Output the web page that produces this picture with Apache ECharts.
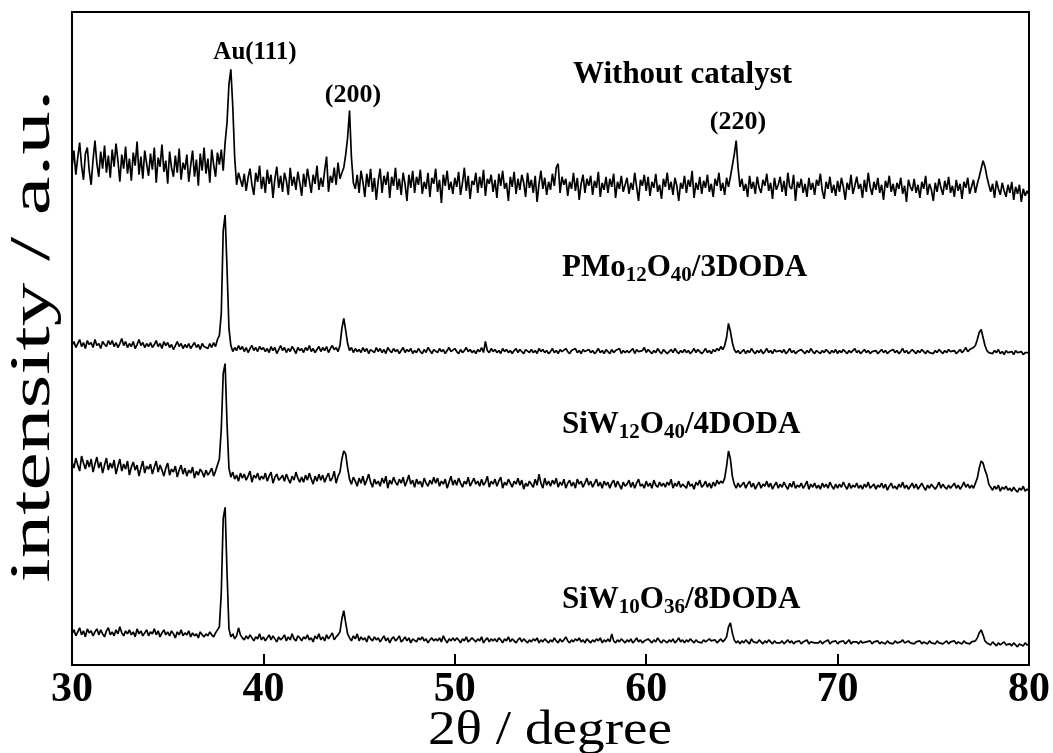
<!DOCTYPE html>
<html>
<head>
<meta charset="utf-8">
<script src="https://cdn.jsdelivr.net/npm/echarts@6/dist/echarts.min.js"></script>
<style>
  html, body { margin: 0; padding: 0; background: #fff; }
  #chart { width: 1053px; height: 753px; }
</style>
</head>
<body>
<div id="chart"></div>
<script>
// XRD scan: 2θ from 30° to 80° in 0.1° steps
const scanStart = 30;
const scanStep = 0.1;
const xTicks = [30, 40, 50, 60, 70, 80];

// Stacked intensities (a.u.), one list per sample, one value per scan step
const withoutCatalyst = [
  495,512,488,505,520,497,483,509,515,492,
  478,503,522,499,486,511,494,517,490,507,
  485,513,496,519,502,481,508,494,516,489,
  504,482,510,497,521,488,506,484,512,499,
  487,509,493,515,480,505,496,518,491,502,
  479,511,495,486,507,490,514,483,500,493,
  508,481,497,512,486,503,477,509,492,515,
  489,504,480,513,498,486,510,498,513,492,
  520,540,578,593,556,505,478,490,483,476,
  489,472,485,494,478,468,490,481,497,474,
  486,470,493,479,488,465,484,496,475,487,
  471,490,482,468,495,477,486,473,491,480,
  467,489,476,494,482,470,488,479,497,473,
  485,476,492,506,471,487,480,495,478,500,
  484,490,495,508,525,552,505,480,474,488,
  470,492,481,466,489,476,494,471,485,463,
  482,494,470,487,478,491,465,486,477,495,
  473,484,468,490,479,462,488,475,492,470,
  486,478,493,469,481,474,490,466,485,479,
  494,471,483,460,488,477,492,473,481,469,
  485,476,491,468,480,495,472,487,464,482,
  478,490,470,486,475,493,467,484,479,488,
  471,483,465,489,477,492,474,480,462,486,
  476,491,469,484,473,488,480,466,490,475,
  483,470,487,461,479,492,474,485,468,481,
  473,489,477,495,499,470,486,478,484,467,
  481,474,490,472,485,463,479,488,470,484,
  477,487,468,482,475,491,466,480,473,486,
  470,484,476,489,465,481,474,487,471,478,
  485,469,480,473,490,476,462,483,477,488,
  472,486,467,481,475,489,471,478,464,484,
  476,490,473,481,468,485,477,462,480,474,
  487,470,483,476,492,465,480,473,486,469,
  482,475,488,471,479,466,484,477,490,472,
  480,468,485,476,486,497,508,522,495,476,
  484,472,479,466,487,474,481,469,486,475,
  470,483,477,489,472,480,464,485,473,478,
  486,471,482,467,490,476,474,488,462,481,
  475,484,470,479,466,485,473,480,468,483,
  477,489,472,464,481,474,486,470,478,467,
  482,471,485,476,463,480,473,488,469,477,
  486,474,479,465,483,471,490,476,468,481,
  473,485,470,478,463,482,475,487,471,479,
  467,480,474,485,469,477,461,483,476,472,
  484,470,478,465,481,474,487,468,479,473,
  462,480,471,484,475,468,482,473,486,470,
  477,466,483,472,479,464,481,475,485,469,
  476,483,470,479,486,494,502,496,486,478,
  471,479,465,482,474,468,480,472,466,478,
  470,481,463,476,469,478,461,474,467,472,
  468
];

const pmo12 = [
  318,322,316,320,324,317,321,315,323,319,
  321,316,324,318,320,315,322,319,317,323,
  319,323,317,321,316,320,325,318,322,316,
  320,317,322,315,319,324,318,321,316,320,
  317,321,316,319,323,317,320,315,322,318,
  321,316,319,314,318,322,317,320,315,319,
  316,320,315,318,321,316,319,314,320,317,
  318,315,320,316,321,317,324,328,350,432,
  448,395,335,318,312,316,313,318,314,317,
  312,316,311,315,318,313,316,312,317,314,
  316,312,315,311,317,313,316,310,314,318,
  313,316,311,315,312,317,314,310,316,313,
  315,311,316,313,318,312,315,311,314,317,
  312,316,313,317,311,315,318,314,316,312,
  318,335,345,333,320,313,316,311,315,312,
  314,311,316,312,315,310,314,313,311,316,
  312,315,311,314,310,316,313,311,315,312,
  314,310,313,316,311,314,312,315,310,313,
  311,315,312,310,314,311,316,313,310,314,
  313,311,315,312,314,310,313,316,312,311,
  315,312,310,314,311,313,316,312,314,311,
  313,310,314,312,316,311,322,313,311,315,
  312,314,311,313,310,315,312,314,311,313,
  310,313,315,311,314,312,310,314,313,311,
  314,311,313,310,315,312,314,311,313,310,
  312,315,311,313,310,314,312,311,315,312,
  310,313,312,315,311,313,310,314,312,311,
  314,311,313,310,312,315,311,313,310,314,
  312,310,314,311,313,312,315,310,313,311,
  313,311,312,315,310,314,312,311,313,316,
  311,314,312,310,313,311,315,312,310,314,
  313,310,312,314,311,315,312,310,313,311,
  314,311,313,310,312,315,311,314,312,310,
  312,315,311,313,310,314,312,315,313,317,
  314,318,326,340,332,321,314,311,313,310,
  312,314,310,313,311,315,312,310,313,311,
  314,310,312,315,311,313,310,314,312,311,
  313,311,314,310,312,315,311,313,310,312,
  311,314,312,310,313,311,315,312,310,313,
  312,310,313,311,314,312,310,313,311,314,
  310,313,311,314,312,310,313,311,312,315,
  311,313,310,312,314,311,313,310,312,311,
  313,310,312,314,311,313,310,312,311,314,
  311,313,310,312,315,311,313,310,312,314,
  312,310,313,311,314,312,310,313,311,312,
  310,313,311,314,312,310,313,311,314,312,
  311,313,310,312,314,311,313,316,312,314,
  313,316,318,324,331,334,326,318,313,311,
  312,310,313,311,314,310,312,309,313,311,
  310,312,309,313,311,310,312,309,311,310,
  311
];

const siw12 = [
  202,196,206,199,193,208,201,195,204,197,
  205,192,200,207,196,202,191,199,206,194,
  201,196,204,190,198,205,193,200,195,203,
  189,197,202,194,199,188,196,203,191,198,
  195,200,190,197,203,192,199,194,188,196,
  201,189,195,192,198,187,194,199,190,196,
  188,194,191,197,186,193,189,195,192,187,
  194,189,192,196,188,193,199,205,235,290,
  300,240,196,187,192,185,189,183,191,186,
  190,184,188,193,182,189,186,191,184,188,
  185,191,183,188,192,181,187,190,184,186,
  189,183,190,185,181,188,184,192,186,182,
  187,182,189,184,191,185,180,188,183,190,
  184,189,182,187,191,183,186,193,181,188,
  192,205,213,210,196,185,180,187,183,178,
  186,181,188,179,184,190,182,177,185,180,
  183,178,186,181,188,176,184,180,187,182,
  179,185,181,187,178,183,189,180,184,177,
  185,180,183,177,186,181,178,184,180,187,
  181,186,178,183,180,185,176,182,188,179,
  184,179,186,181,177,183,180,187,178,182,
  186,180,183,178,185,179,182,188,177,183,
  180,185,178,183,187,176,182,179,185,181,
  177,183,180,186,179,184,175,181,178,183,
  182,177,185,179,190,181,176,186,179,183,
  178,184,180,186,177,182,179,185,176,181,
  184,178,182,176,185,180,183,177,181,186,
  179,183,177,181,185,178,182,176,183,179,
  182,176,181,184,177,183,179,175,182,178,
  180,184,177,182,176,181,185,178,180,176,
  183,178,181,176,184,179,177,182,178,181,
  177,182,179,185,176,181,178,183,177,180,
  181,176,183,178,180,175,182,179,184,177,
  179,183,177,181,176,182,178,184,180,183,
  181,186,198,213,205,188,180,176,181,177,
  178,182,176,180,183,177,181,175,179,182,
  176,180,178,183,177,181,175,179,182,176,
  180,177,182,178,175,181,177,183,176,179,
  177,181,176,179,183,175,180,177,181,176,
  179,175,181,177,180,176,182,178,175,180,
  176,180,177,182,178,175,181,176,179,177,
  181,176,179,175,180,177,182,176,178,180,
  175,179,177,181,176,180,174,178,181,176,
  178,175,180,177,182,176,179,175,178,181,
  176,180,175,178,181,177,174,179,176,180,
  179,175,178,182,176,180,177,175,179,176,
  177,181,176,179,175,178,182,177,180,176,
  179,176,181,186,196,203,201,194,189,180,
  177,174,178,175,179,173,177,175,178,174,
  176,173,177,174,172,176,174,178,173,175,
  174
];

const siw10 = [
  31,35,29,33,37,30,34,28,36,32,
  34,29,33,36,30,35,31,28,34,37,
  30,33,29,35,31,38,32,29,34,31,
  35,30,33,28,36,31,34,29,32,35,
  29,33,31,36,30,34,28,32,35,30,
  33,29,34,31,27,33,30,35,29,32,
  30,34,28,32,29,31,27,33,30,28,
  31,29,33,30,28,32,35,38,72,146,
  157,92,36,28,31,26,29,37,30,27,
  25,29,26,30,27,24,28,26,31,25,
  28,24,27,30,25,29,26,23,28,25,
  27,30,24,28,25,31,26,24,29,27,
  24,28,26,30,25,27,23,29,26,31,
  25,28,24,30,26,29,32,25,28,30,
  33,46,54,42,31,27,24,29,26,31,
  24,28,25,27,23,29,26,24,28,25,
  27,23,26,29,24,27,22,26,28,24,
  26,29,23,25,28,24,27,22,26,25,
  23,27,25,28,24,26,22,25,27,24,
  26,24,27,23,29,25,22,26,24,27,
  24,27,25,22,26,24,28,23,25,27,
  25,23,26,24,28,22,25,27,23,26,
  24,26,23,27,25,22,26,24,28,23,
  26,24,22,25,27,23,26,24,22,25,
  23,26,24,27,22,25,23,26,24,22,
  25,23,27,24,22,26,23,25,28,24,
  22,25,23,26,24,27,23,25,22,26,
  24,22,25,23,26,24,27,22,25,23,
  26,23,31,24,22,25,23,26,24,22,
  25,23,26,22,24,27,23,25,22,24,
  23,26,24,22,25,23,27,24,22,25,
  24,22,25,23,26,22,24,27,23,25,
  22,25,23,26,24,22,25,23,24,22,
  25,23,22,26,24,23,25,22,24,26,
  23,25,28,38,42,32,25,22,24,21,
  24,22,25,23,21,26,23,24,22,25,
  23,21,24,22,25,23,21,24,22,23,
  22,24,21,23,25,22,24,21,23,22,
  24,21,23,22,25,21,23,24,22,21,
  22,24,21,23,22,25,21,23,22,24,
  21,23,22,24,21,22,25,21,23,22,
  23,21,24,22,21,23,22,24,21,23,
  22,24,21,23,22,21,24,22,23,21,
  24,22,21,23,25,22,21,24,22,23,
  21,23,22,24,21,23,22,21,24,22,
  23,21,24,22,23,21,22,24,21,23,
  22,24,21,23,22,21,24,22,23,21,
  23,22,24,27,32,35,30,24,22,21,
  20,23,21,19,22,20,21,23,20,19,
  21,19,22,20,18,21,20,19,22,20,
  20
];

// Sample names as rich-text strings (subscripts in the {s|..} style)
const sampleLabels = [
  'Without catalyst',
  'PMo{s|12}O{s|40}/3DODA',
  'SiW{s|12}O{s|40}/4DODA',
  'SiW{s|10}O{s|36}/8DODA'
];
const peakLabels = ['Au(111)', '(200)', '(220)'];
const xTitle = '2θ / degree';
const yTitle = 'intensity / a.u.';

const toPairs = vals => vals.map((v, i) => [+(scanStart + i * scanStep).toFixed(1), v]);

const serif = '"Liberation Serif", "Times New Roman", serif';
const labelRich = {
  s: { fontFamily: serif, fontWeight: 'bold', fontSize: 21, lineHeight: 20, verticalAlign: 'bottom' }
};
function sampleText(text, x, y) {
  return {
    type: 'text', x: x, y: y, z: 10,
    style: {
      text: text, fill: '#000',
      fontFamily: serif, fontWeight: 'bold', fontSize: 31, lineHeight: 36,
      align: 'left', verticalAlign: 'middle',
      rich: labelRich
    }
  };
}
function peakText(text, x, y, size) {
  return {
    type: 'text', x: x, y: y, z: 10,
    style: {
      text: text, fill: '#000',
      fontFamily: serif, fontWeight: 'bold', fontSize: size,
      align: 'center', verticalAlign: 'middle'
    }
  };
}

const chart = echarts.init(document.getElementById('chart'), null, { renderer: 'canvas' });

const lineSeries = [withoutCatalyst, pmo12, siw12, siw10].map((vals, k) => ({
  name: sampleLabels[k],
  type: 'line',
  data: toPairs(vals),
  showSymbol: false,
  symbol: 'none',
  silent: true,
  lineStyle: { color: '#000', width: 1.7 },
  z: 3
}));

chart.setOption({
  animation: false,
  backgroundColor: '#fff',
  grid: {
    left: 72, right: 24, top: 12, bottom: 88,
    outerBoundsMode: 'none',
    containLabel: false,
    show: true, borderColor: '#000', borderWidth: 2, backgroundColor: 'transparent'
  },
  xAxis: {
    type: 'value',
    min: xTicks[0], max: xTicks[xTicks.length - 1], interval: 10,
    axisLine: { show: true, lineStyle: { color: '#000', width: 2 } },
    axisTick: { show: true, inside: true, length: 11, lineStyle: { color: '#000', width: 2 } },
    axisLabel: {
      fontFamily: serif, fontWeight: 'bold', fontSize: 42, color: '#000', margin: 4,
      hideOverlap: false,
      formatter: v => (xTicks.indexOf(v) >= 0 ? String(v) : '')
    },
    splitLine: { show: false }
  },
  yAxis: {
    type: 'value',
    min: 0, max: 650,
    show: false
  },
  series: lineSeries,
  graphic: [
    {
      type: 'text', x: 550, y: 731, scaleX: 1.15, scaleY: 1,
      style: {
        text: xTitle, fill: '#000',
        fontFamily: serif, fontSize: 48,
        align: 'center', verticalAlign: 'middle'
      }
    },
    {
      type: 'text', x: 34, y: 336, rotation: Math.PI / 2, scaleX: 1.5, scaleY: 1,
      style: {
        text: yTitle, fill: '#000',
        fontFamily: serif, fontSize: 58,
        align: 'center', verticalAlign: 'middle'
      }
    },
    peakText(peakLabels[0], 255, 53, 25),
    peakText(peakLabels[1], 353, 95, 26),
    peakText(peakLabels[2], 738, 122, 26),
    sampleText(sampleLabels[0], 573, 75),
    sampleText(sampleLabels[1], 562, 268),
    sampleText(sampleLabels[2], 562, 425),
    sampleText(sampleLabels[3], 562, 600)
  ]
});
</script>
</body>
</html>
